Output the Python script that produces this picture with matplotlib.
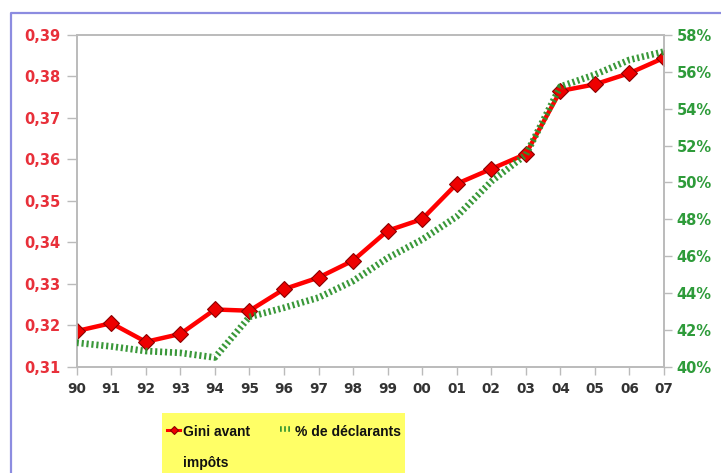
import matplotlib
matplotlib.use("Agg")
import matplotlib.pyplot as plt
from matplotlib.lines import Line2D
from matplotlib.patches import Rectangle
from matplotlib.ticker import FuncFormatter

# ---- data ----
years = ["90", "91", "92", "93", "94", "95", "96", "97", "98",
         "99", "00", "01", "02", "03", "04", "05", "06", "07"]
gini = [0.3186, 0.3205, 0.3160, 0.3179, 0.3238, 0.3235, 0.3287, 0.3315, 0.3356,
        0.3428, 0.3456, 0.3541, 0.3577, 0.3613, 0.3765, 0.3781, 0.3808, 0.3845]
declarants = [41.3, 41.1, 40.85, 40.75, 40.5, 42.7, 43.2, 43.75, 44.65,
              45.9, 46.9, 48.15, 50.05, 51.5, 55.2, 55.85, 56.65, 57.1]
left_ticks = [0.31, 0.32, 0.33, 0.34, 0.35, 0.36, 0.37, 0.38, 0.39]
right_ticks = [40, 42, 44, 46, 48, 50, 52, 54, 56, 58]
label_gini = "Gini avant\nimpôts"
label_decl = "% de déclarants"

W, H = 721, 473
plt.rcParams['font.family'] = ['DejaVu Sans']
fig = plt.figure(figsize=(W / 100, H / 100), dpi=100)
fig.patch.set_facecolor("white")

x = list(range(len(years)))
ax = fig.add_axes([76.7 / W, 1 - 366.7 / H, (664 - 76.7) / W, (366.7 - 35) / H])
ax2 = ax.twinx()

red = "#FF0000"
green = "#2F932F"
axis_gray = "#BBBBBB"
red_kw = dict(color=red, marker="D", markerfacecolor="#EE0000",
              markeredgecolor="#8A0000", markeredgewidth=0.8)
green_kw = dict(color=green, dashes=(0.32, 0.42), dash_capstyle="butt", alpha=0.95)

ax.plot(x, gini, lw=3.2, markersize=8, zorder=3, **red_kw)
ax2.plot(x, declarants, lw=4.8, zorder=3, **green_kw)

ax.set_xlim(0, len(years) - 1)
ax.set_ylim(0.31, 0.39)
ax2.set_ylim(40, 58)
ax.set_xticks(x)
ax.set_xticklabels(years)
ax.set_yticks(left_ticks)
ax.yaxis.set_major_formatter(FuncFormatter(lambda v, p: f"{v:.2f}".replace(".", ",")))
ax2.set_yticks(right_ticks)
ax2.yaxis.set_major_formatter(FuncFormatter(lambda v, p: f"{v:.0f}%"))

for a in (ax, ax2):
    for s in a.spines.values():
        s.set_color(axis_gray)
        s.set_linewidth(1.2)

ax.tick_params(axis="x", direction="out", length=6, width=1, color=axis_gray,
               labelsize=9.8, labelcolor="#333333", pad=5)
ax.tick_params(axis="y", direction="out", length=7, width=1, color=axis_gray,
               labelsize=10.5, labelcolor="#E8303A", pad=5)
ax2.tick_params(axis="y", direction="out", length=6, width=1, color=axis_gray,
                labelsize=10.5, labelcolor="#2E9B3A", pad=3)
for lbl in ax.get_xticklabels() + ax.get_yticklabels() + ax2.get_yticklabels():
    lbl.set_fontweight("bold")

# frame of the original picture
frame_col = "#8C8CE0"
fig.add_artist(Line2D([11 / W, 11 / W, 1.0], [0.0, 1 - 13 / H, 1 - 13 / H],
                      transform=fig.transFigure, color=frame_col, lw=1.6))

# legend drawn by hand (handles aligned with first text line)
def fx(px):
    return px / W

def fy(py):
    return 1 - py / H

tf = fig.transFigure
fig.add_artist(Rectangle((fx(162), fy(474)), fx(405) - fx(162), fy(413) - fy(474),
                         transform=tf, facecolor="#FFFF66", edgecolor="none", zorder=5))
fig.add_artist(Line2D([fx(167), fx(173.5), fx(180)], [fy(430), fy(430), fy(430)],
                      transform=tf, lw=2.2, markersize=4, markevery=[1], zorder=6,
                      **red_kw))
fig.add_artist(Line2D([fx(280), fx(291)], [fy(429), fy(429)], transform=tf,
                      lw=4, zorder=6, **green_kw))
legend_font = dict(family=["Liberation Sans", "DejaVu Sans"], weight="bold",
                   size=10, color="#111111", zorder=7)
fig.text(fx(183), fy(425), label_gini, ha="left", va="top",
         linespacing=2.55, transform=tf, **legend_font)
fig.text(fx(295), fy(425), label_decl, ha="left", va="top",
         transform=tf, **legend_font)

fig.savefig("out.png", dpi=100, facecolor="white")
